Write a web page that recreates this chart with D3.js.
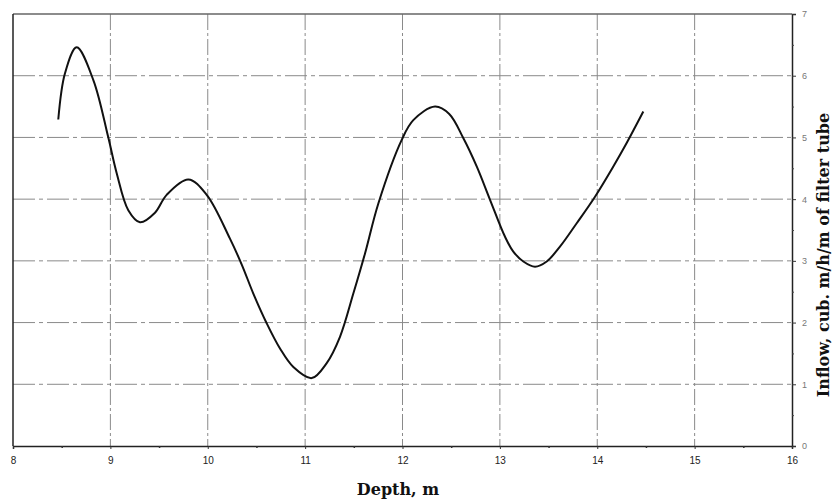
<!DOCTYPE html>
<html><head><meta charset="utf-8">
<script src="https://cdn.jsdelivr.net/npm/d3@7"></script>
<style>body{margin:0;background:#fff}</style>
</head><body>
<svg id="c" width="833" height="500"></svg>
<script>
const depth = [8.465,8.534,8.654,8.825,8.977,9.065,9.184,9.304,9.458,9.578,9.80,9.989,10.228,10.349,10.468,10.605,10.742,10.879,11.068,11.22,11.358,11.495,11.615,11.752,11.992,12.111,12.334,12.48,12.624,12.762,12.899,13.053,13.138,13.241,13.361,13.481,13.617,13.789,13.977,14.165,14.302,14.473];
const inflow = [5.29,6.04,6.46,5.93,5.01,4.42,3.82,3.625,3.78,4.07,4.32,4.07,3.36,2.94,2.47,1.99,1.58,1.28,1.10,1.34,1.77,2.47,3.12,3.93,4.96,5.28,5.50,5.38,4.99,4.53,3.99,3.39,3.15,2.99,2.905,2.99,3.23,3.61,4.04,4.53,4.91,5.42];
const xTicks = [8,9,10,11,12,13,14,15,16];
const yTicks = [0,1,2,3,4,5,6,7];
const xTitle = "Depth, m";
const yTitle = "Inflow, cub. m/h/m of filter tube";

const svg = d3.select("#c");
const L=13,R=792,T=14,B=446;
const x = d3.scaleLinear().domain([8,16]).range([L,R]);
const y = d3.scaleLinear().domain([0,7]).range([B,T]);

// grid
const g = svg.append("g");
g.selectAll(".vg").data(xTicks.slice(1,-1)).join("line")
  .attr("x1",d=>x(d)).attr("x2",d=>x(d)).attr("y1",T).attr("y2",B)
  .attr("stroke","#8a8a8a").attr("stroke-width",1).attr("stroke-dasharray","16,3,3,3");
g.selectAll(".hg").data(yTicks.slice(1,-1)).join("line")
  .attr("x1",L).attr("x2",R).attr("y1",d=>y(d)).attr("y2",d=>y(d))
  .attr("stroke","#8a8a8a").attr("stroke-width",1).attr("stroke-dasharray","22,4,4,4");
g.append("line").attr("x1",L).attr("x2",R).attr("y1",T).attr("y2",T).attr("stroke","#666").attr("stroke-width",1.3);
g.append("line").attr("x1",L).attr("x2",L).attr("y1",T).attr("y2",B).attr("stroke","#222").attr("stroke-width",1.5);

// bottom axis
const xAxis = d3.axisBottom(x).tickValues(xTicks).tickSize(3).tickFormat(d3.format("d"));
const xa = svg.append("g").attr("transform",`translate(0,${B})`).call(xAxis);
xa.select(".domain").attr("stroke","#222").attr("stroke-width",1.5);
xa.selectAll("text").attr("font-family","Liberation Sans, Arial, sans-serif").attr("font-size",10).attr("fill","#222").attr("dy","1.15em");
xa.selectAll(".tick line").attr("stroke","#333");
const xMinor = d3.axisBottom(x).tickValues(d3.range(8.5,16,1)).tickSize(2).tickFormat("");
const xm = svg.append("g").attr("transform",`translate(0,${B})`).call(xMinor);
xm.select(".domain").remove();
xm.selectAll(".tick line").attr("stroke","#333").attr("stroke-width",1.5);

// right axis
const yAxis = d3.axisRight(y).tickValues(yTicks).tickSize(4).tickPadding(6).tickFormat(d3.format("d"));
const ya = svg.append("g").attr("transform",`translate(${R},0)`).call(yAxis);
ya.select(".domain").attr("stroke","#222").attr("stroke-width",1.5);
ya.selectAll("text").attr("font-family","Liberation Sans, Arial, sans-serif").attr("font-size",9).attr("fill","#777");
ya.selectAll(".tick line").attr("stroke","#333");
const yMinor = d3.axisRight(y).tickValues(d3.range(0.5,7,1)).tickSize(2).tickFormat("");
const ym = svg.append("g").attr("transform",`translate(${R},0)`).call(yMinor);
ym.select(".domain").remove();
ym.selectAll(".tick line").attr("stroke","#444");

// curve
const line = d3.line().x((d,i)=>x(depth[i])).y(d=>y(d)).curve(d3.curveCatmullRom.alpha(0.5));
svg.append("path").attr("d",line(inflow)).attr("fill","none").attr("stroke","#111").attr("stroke-width",2).attr("stroke-linejoin","round");

// titles
svg.append("text").attr("x",398).attr("y",495).attr("text-anchor","middle")
  .attr("font-family","DejaVu Serif, serif").attr("font-weight","bold").attr("font-size",16).attr("fill","#111").text(xTitle);
svg.append("text").attr("transform","translate(829,255) rotate(-90)").attr("text-anchor","middle")
  .attr("font-family","DejaVu Serif, serif").attr("font-weight","bold").attr("font-size",16).attr("fill","#111").text(yTitle);
</script>
</body></html>
